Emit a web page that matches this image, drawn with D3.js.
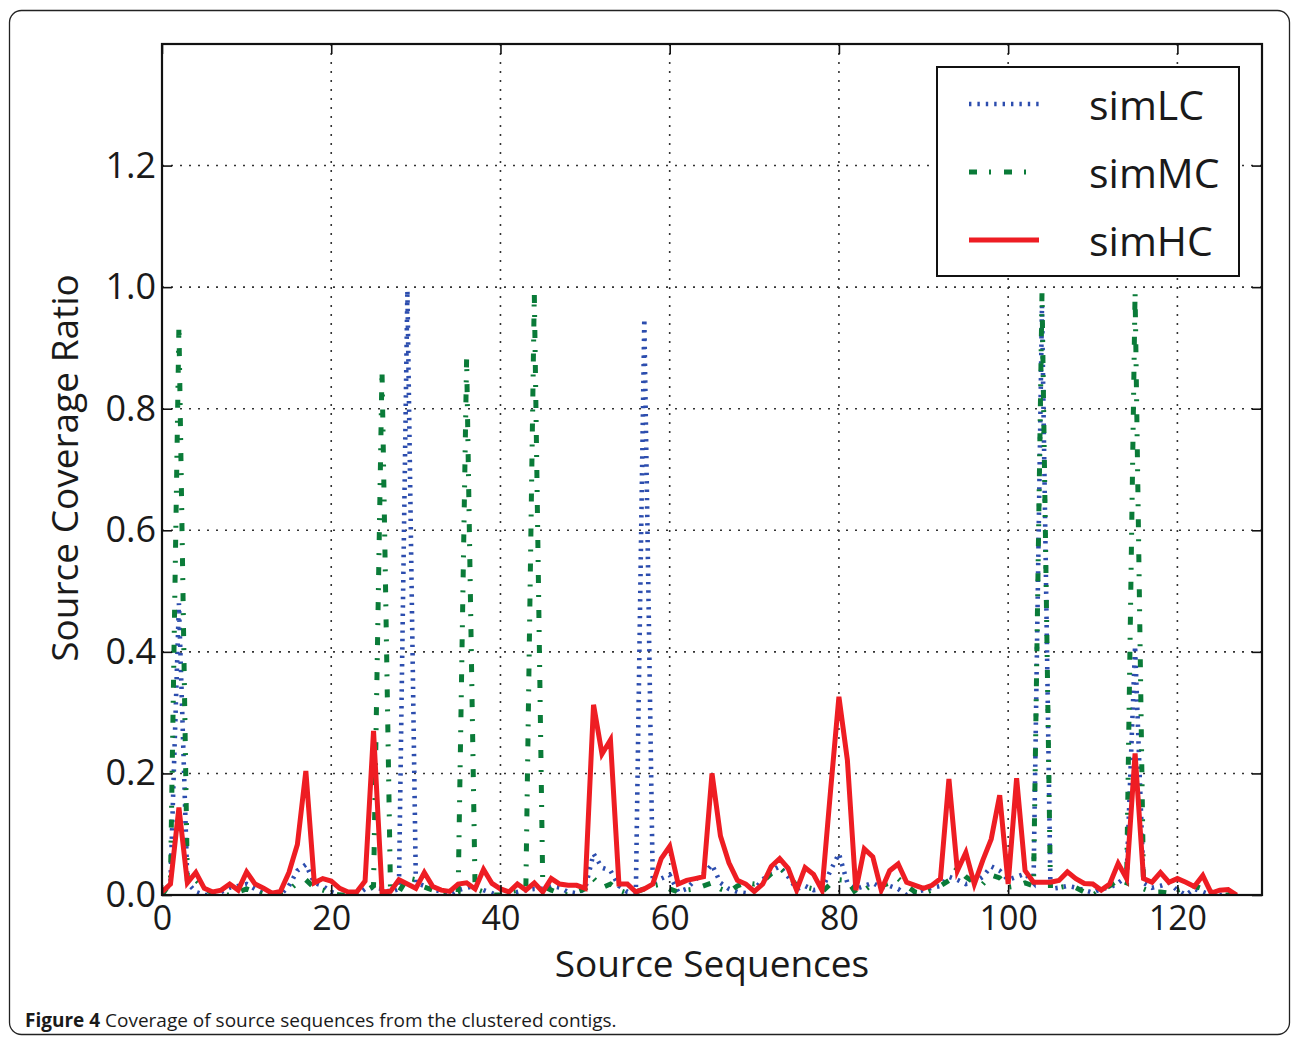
<!DOCTYPE html>
<html>
<head>
<meta charset="utf-8">
<script src="https://cdn.jsdelivr.net/npm/d3@7"></script>
<style>
  html, body { margin: 0; padding: 0; background: #fff; }
  svg { display: block; }
  text { font-family: "Open Sans", "Noto Sans", sans-serif; fill: #1a1a1a; }
</style>
</head>
<body>
<svg id="chart" width="1292" height="1037"></svg>
<script>
// ---------------- data ----------------
const seriesNames = ["simLC", "simMC", "simHC"];
const xTicks = [0, 20, 40, 60, 80, 100, 120];
const yTicks = [0.0, 0.2, 0.4, 0.6, 0.8, 1.0, 1.2];
const yTickLabels = ["0.0", "0.2", "0.4", "0.6", "0.8", "1.0", "1.2"];

const simLC = [
  0.0, 0.02, 0.48, 0.02, 0.005, 0.0, 0.0, 0.005, 0.012, 0.015,
  0.018, 0.01, 0.003, 0.0, 0.0, 0.015, 0.04, 0.05, 0.02, 0.015,
  0.005, 0.0, 0.0, 0.0, 0.01, 0.012, 0.01, 0.005, 0.01, 0.995,
  0.02, 0.015, 0.01, 0.005, 0.0, 0.008, 0.012, 0.015, 0.008, 0.003,
  0.0, 0.005, 0.005, 0.008, 0.01, 0.01, 0.015, 0.012, 0.005, 0.003,
  0.01, 0.068, 0.045, 0.04, 0.015, 0.005, 0.003, 0.948, 0.02, 0.027,
  0.033, 0.005, 0.01, 0.025, 0.035, 0.05, 0.02, 0.01, 0.005, 0.003,
  0.01, 0.025, 0.04, 0.047, 0.03, 0.01, 0.015, 0.008, 0.01, 0.04,
  0.068, 0.02, 0.01, 0.015, 0.02, 0.012, 0.015, 0.01, 0.0, 0.005,
  0.008, 0.012, 0.015, 0.03, 0.025, 0.018, 0.02, 0.03, 0.047, 0.04,
  0.025, 0.03, 0.035, 0.02, 0.97, 0.01, 0.012, 0.015, 0.012, 0.008,
  0.004, 0.01, 0.012, 0.02, 0.03, 0.41, 0.02, 0.012, 0.015, 0.02,
  0.008, 0.0, 0.01, 0.005, 0.0, 0.0, 0.002, 0.0
];
const simMC = [
  0.0, 0.02, 0.937, 0.02, 0.025, 0.01, 0.003, 0.0, 0.0, 0.005,
  0.01, 0.005, 0.002, 0.0, 0.002, 0.008, 0.02, 0.025, 0.012, 0.008,
  0.003, 0.0, 0.0, 0.0, 0.005, 0.015, 0.864, 0.01, 0.005, 0.028,
  0.025, 0.013, 0.008, 0.003, 0.0, 0.005, 0.883, 0.01, 0.005, 0.0,
  0.0, 0.005, 0.008, 0.01, 0.99, 0.015, 0.008, 0.003, 0.0, 0.005,
  0.01, 0.027, 0.012, 0.018, 0.008, 0.003, 0.005, 0.01, 0.015, 0.018,
  0.01, 0.005, 0.008, 0.01, 0.015, 0.02, 0.01, 0.005, 0.015, 0.02,
  0.018, 0.022, 0.035, 0.044, 0.033, 0.015, 0.013, 0.01, 0.005, 0.018,
  0.025, 0.024, 0.003, 0.008, 0.018, 0.015, 0.02, 0.027, 0.015, 0.005,
  0.003, 0.008, 0.015, 0.024, 0.045, 0.03, 0.02, 0.018, 0.033, 0.028,
  0.013, 0.015, 0.02, 0.015, 0.99, 0.01, 0.012, 0.015, 0.012, 0.005,
  0.0, 0.008, 0.015, 0.025, 0.02, 0.992, 0.01, 0.005, 0.005, 0.003,
  0.008, 0.012, 0.015, 0.01, 0.005, 0.0, 0.0, 0.0
];
const simHC = [
  0.005, 0.018, 0.144, 0.02, 0.037, 0.011, 0.005, 0.008, 0.018, 0.008,
  0.038, 0.018, 0.011, 0.003, 0.006, 0.037, 0.083, 0.204, 0.02, 0.027,
  0.023, 0.011, 0.005, 0.005, 0.023, 0.27, 0.005, 0.006, 0.025, 0.018,
  0.011, 0.037, 0.014, 0.008, 0.006, 0.018, 0.02, 0.01, 0.042, 0.019,
  0.01, 0.005, 0.018, 0.008, 0.02, 0.005, 0.027, 0.018, 0.016, 0.016,
  0.011, 0.313, 0.232, 0.255, 0.018, 0.018, 0.005, 0.01, 0.018, 0.06,
  0.08, 0.018, 0.024, 0.027, 0.03, 0.2, 0.097, 0.053, 0.024, 0.018,
  0.006, 0.018, 0.047, 0.06, 0.044, 0.008, 0.045, 0.034, 0.008, 0.17,
  0.326, 0.222, 0.008, 0.076, 0.063, 0.008, 0.04, 0.051, 0.021, 0.016,
  0.011, 0.016, 0.027, 0.191, 0.04, 0.07, 0.018, 0.057, 0.092, 0.164,
  0.018, 0.192, 0.04, 0.021, 0.021, 0.021, 0.024, 0.038, 0.027, 0.019,
  0.018, 0.008, 0.018, 0.052, 0.027, 0.233, 0.027, 0.021, 0.037, 0.021,
  0.027, 0.021, 0.014, 0.032, 0.003, 0.008, 0.009, 0.0
];

// ---------------- layout ----------------
const svg = d3.select("#chart");
const L = 162, R = 1262, T = 44, B = 895;
const x = d3.scaleLinear().domain([0, 130]).range([L, R]);
const y = d3.scaleLinear().domain([0, 1.4]).range([B, T]);

// outer figure border
svg.append("rect").attr("x", 9.5).attr("y", 10.5).attr("width", 1280).attr("height", 1024)
  .attr("rx", 12).attr("fill", "none").attr("stroke", "#222").attr("stroke-width", 1.3);

// grid
const grid = svg.append("g");
grid.selectAll(".gx").data(xTicks.filter(d => d > 0)).join("line")
  .attr("x1", d => x(d)).attr("x2", d => x(d)).attr("y1", T).attr("y2", B)
  .attr("stroke", "#333").attr("stroke-width", 1.6).attr("stroke-dasharray", "2,7");
grid.selectAll(".gy").data(yTicks.filter(d => d > 0)).join("line")
  .attr("x1", L).attr("x2", R).attr("y1", d => y(d)).attr("y2", d => y(d))
  .attr("stroke", "#333").attr("stroke-width", 1.6).attr("stroke-dasharray", "2,7");

// clip
svg.append("clipPath").attr("id", "clip").append("rect")
  .attr("x", L).attr("y", T).attr("width", R - L).attr("height", B - T);

const styles = {
  simLC: { data: simLC, color: "#2c4dae", width: 4.6, dash: "2.4,6" },
  simMC: { data: simMC, color: "#0a7b38", width: 5, dash: "8,12,2,13" },
  simHC: { data: simHC, color: "#ee1d23", width: 5, dash: null }
};

const line = d3.line().x((d, i) => x(i)).y(d => y(d));
const lines = svg.append("g").attr("clip-path", "url(#clip)");
seriesNames.forEach(name => {
  const s = styles[name];
  lines.append("path").datum(s.data)
    .attr("d", line)
    .attr("fill", "none")
    .attr("stroke", s.color)
    .attr("stroke-width", s.width)
    .attr("stroke-linejoin", "miter")
    .attr("stroke-dasharray", s.dash);
});

// axes (inward ticks, both sides)
const tickLen = 10;
const axB = d3.axisBottom(x).tickValues(xTicks).tickSize(-tickLen).tickPadding(11).tickFormat(d3.format("d"));
const axT = d3.axisTop(x).tickValues(xTicks).tickSize(-tickLen).tickFormat("");
const axLft = d3.axisLeft(y).tickValues(yTicks).tickSize(-tickLen).tickPadding(6)
  .tickFormat((d, i) => yTickLabels[i]);
const axRt = d3.axisRight(y).tickValues(yTicks).tickSize(-tickLen).tickFormat("");

function styleAxis(g) {
  g.select(".domain").remove();
  g.selectAll(".tick line").attr("stroke", "#111").attr("stroke-width", 1.6);
  g.selectAll(".tick text").attr("font-family", "'Open Sans', sans-serif")
    .attr("font-size", 36).attr("fill", "#1a1a1a");
}
svg.append("g").attr("transform", `translate(0,${B})`).call(axB).call(styleAxis)
  .selectAll(".tick text").attr("dy", "0.72em").attr("font-size", 34);
svg.append("g").attr("transform", `translate(0,${T})`).call(axT).call(styleAxis);
svg.append("g").attr("transform", `translate(${L},0)`).call(axLft).call(styleAxis);
svg.append("g").attr("transform", `translate(${R},0)`).call(axRt).call(styleAxis);

// frame
svg.append("rect").attr("x", L).attr("y", T).attr("width", R - L).attr("height", B - T)
  .attr("fill", "none").attr("stroke", "#111").attr("stroke-width", 2.2);

// axis titles
svg.append("text").attr("x", 712).attr("y", 977).attr("text-anchor", "middle")
  .attr("font-size", 37).text("Source Sequences");
svg.append("text").attr("transform", "translate(78,468) rotate(-90)").attr("text-anchor", "middle")
  .attr("font-size", 37).text("Source Coverage Ratio");

// legend
const lg = svg.append("g");
lg.append("rect").attr("x", 937).attr("y", 67).attr("width", 302).attr("height", 209)
  .attr("fill", "#fff").attr("stroke", "#111").attr("stroke-width", 2);
const legY = [104, 172, 240];
seriesNames.forEach((name, i) => {
  const s = styles[name];
  lg.append("line").attr("x1", 969).attr("x2", 1039).attr("y1", legY[i]).attr("y2", legY[i])
    .attr("stroke", s.color).attr("stroke-width", s.width).attr("stroke-dasharray", s.dash);
  lg.append("text").attr("x", 1089).attr("y", legY[i] + 16).attr("font-size", 41).text(name);
});

// caption
const cap = svg.append("text").attr("x", 25).attr("y", 1027).attr("font-size", 19);
cap.append("tspan").attr("font-weight", "bold").text("Figure 4");
cap.append("tspan").text(" Coverage of source sequences from the clustered contigs.");
</script>
</body>
</html>
